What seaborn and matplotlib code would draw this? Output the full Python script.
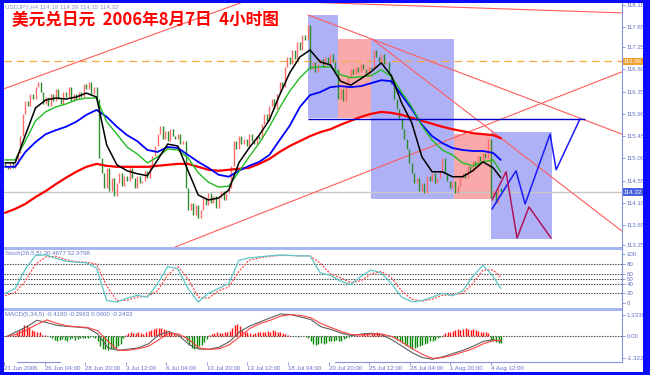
import numpy as np
import matplotlib
matplotlib.use("Agg")
import matplotlib.pyplot as plt
from matplotlib.patches import Rectangle
from matplotlib.lines import Line2D
from matplotlib.transforms import blended_transform_factory
import seaborn as sns

# USDJPY 4h closes, 21 Jun - 7 Aug 2006
first_open = 114.90
closes = [
    114.85, 114.78, 114.92, 114.80, 114.88, 115.10, 115.45, 115.90, 116.15, 116.05,
    116.30, 116.20, 116.45, 116.55, 116.35, 116.10, 116.25, 116.05, 116.30, 116.15,
    116.40, 116.20, 116.10, 116.35, 116.25, 116.45, 116.15, 116.30, 116.20, 116.35,
    116.25, 116.50, 116.40, 116.55, 116.30, 116.45, 116.20, 115.00, 114.70, 114.40,
    114.80, 114.35, 114.60, 114.25, 114.50, 114.70, 114.45, 114.65, 114.55, 114.80,
    114.60, 114.40, 114.65, 114.50, 114.55, 114.75, 114.60, 114.85, 115.05, 115.25,
    115.50, 115.65, 115.40, 115.55, 115.35, 115.60, 115.45, 115.40, 115.50, 115.30,
    115.35, 114.40, 113.95, 114.10, 113.85, 114.05, 113.80, 113.95, 114.20, 114.05,
    114.30, 114.10, 114.25, 114.00, 114.20, 114.35, 114.15, 114.30, 114.40, 114.85,
    115.35, 115.20, 115.45, 115.30, 115.40, 115.25, 115.50, 115.35, 115.30, 115.45,
    115.40, 115.70, 115.90, 115.75, 116.05, 116.20, 116.00, 116.30, 116.55, 116.45,
    116.85, 117.05, 116.90, 117.20, 117.00, 117.35, 117.20, 117.50, 117.40, 117.70,
    116.80, 116.95, 116.75, 116.90, 117.00, 116.85, 117.05, 116.90, 117.10, 116.95,
    116.80, 116.20, 116.40, 116.15, 116.50, 116.65, 116.80, 116.70, 116.85, 116.75,
    116.90, 116.80, 116.70, 116.85, 116.80, 117.20, 117.05, 116.95, 117.10, 116.90,
    116.95, 116.70, 116.50, 116.20, 116.00, 115.80, 115.60, 115.40, 115.20, 114.90,
    114.70, 114.50, 114.60, 114.35, 114.50, 114.30, 114.65, 114.55, 114.70, 114.50,
    114.60, 114.75, 115.00, 114.70, 114.55, 114.40, 114.55, 114.30, 114.45, 114.60,
    114.70, 114.60, 114.85, 114.75, 114.95, 114.85, 115.05, 114.95, 115.10, 115.00,
    115.40, 114.20, 114.35, 114.10, 114.40, 114.32,
]

# indicator lines, read every 4th bar
ma_bars = list(range(0, 193, 4)) + [195]
ma_black = [114.91, 114.91, 115.47, 116.02, 116.18, 116.22, 116.20, 116.24, 116.32, 116.24,
            115.27, 114.87, 114.75, 114.69, 114.65, 114.97, 115.29, 115.25, 114.75, 114.26,
            114.16, 114.20, 114.36, 114.91, 115.21, 115.47, 115.78, 116.28, 116.73, 117.05,
            117.19, 116.95, 116.89, 116.56, 116.48, 116.61, 116.75, 116.93, 116.67, 116.12,
            115.72, 115.03, 114.73, 114.73, 114.63, 114.63, 114.75, 114.93, 114.81, 114.61]
ma_green = [114.97, 114.97, 115.35, 115.76, 115.94, 116.04, 116.10, 116.18, 116.22, 116.22,
            115.74, 115.49, 115.23, 115.09, 114.91, 115.03, 115.19, 115.17, 115.01, 114.71,
            114.52, 114.42, 114.44, 114.73, 115.03, 115.31, 115.64, 116.02, 116.36, 116.63,
            116.83, 116.85, 116.85, 116.69, 116.63, 116.65, 116.67, 116.79, 116.65, 116.34,
            116.04, 115.66, 115.37, 115.17, 115.07, 114.91, 114.85, 114.93, 114.97, 114.73]
ma_blue = [114.83, 114.83, 115.13, 115.33, 115.49, 115.57, 115.64, 115.74, 115.88, 115.98,
           115.84, 115.64, 115.47, 115.35, 115.17, 115.13, 115.23, 115.21, 115.07, 114.93,
           114.81, 114.67, 114.63, 114.75, 114.85, 114.93, 115.07, 115.37, 115.66, 116.04,
           116.28, 116.34, 116.44, 116.46, 116.44, 116.46, 116.52, 116.58, 116.56, 116.28,
           116.00, 115.68, 115.45, 115.31, 115.21, 115.17, 115.15, 115.15, 115.11, 114.97]
ma_red = [113.90, 113.98, 114.08, 114.22, 114.34, 114.48, 114.61, 114.73, 114.83, 114.89,
          114.85, 114.83, 114.83, 114.83, 114.83, 114.85, 114.87, 114.89, 114.89, 114.83,
          114.77, 114.75, 114.77, 114.79, 114.81, 114.89, 114.99, 115.13, 115.25, 115.35,
          115.45, 115.53, 115.59, 115.68, 115.76, 115.84, 115.90, 115.94, 115.92, 115.88,
          115.82, 115.76, 115.70, 115.64, 115.59, 115.55, 115.51, 115.49, 115.47, 115.41]

stoch_k = [20, 30, 70, 98, 99, 92, 86, 84, 83, 72,
           5, 2, 10, 16, 12, 40, 75, 70, 30, 2,
           20, 30, 40, 88, 93, 95, 97, 99, 98, 97,
           97, 62, 57, 45, 38, 55, 68, 62, 40, 12,
           3, 5, 12, 20, 15, 25, 55, 78, 55, 30]
stoch_d = [15, 22, 45, 80, 95, 96, 89, 85, 84, 80,
           35, 5, 6, 12, 14, 25, 58, 75, 50, 12,
           10, 25, 33, 65, 88, 93, 96, 98, 98, 97,
           97, 82, 60, 52, 42, 46, 60, 65, 52, 25,
           8, 4, 8, 16, 17, 20, 40, 68, 68, 53]

macd_main = [0.0, 0.3, 0.6, 1.0, 0.85, 0.68, 0.62, 0.58, 0.52, 0.15,
             -0.7, -0.85, -0.78, -0.7, -0.45, 0.1, 0.3, 0.05, -0.5, -0.78,
             -0.78, -0.65, -0.3, 0.3, 0.65, 0.9, 1.15, 1.38, 1.35, 1.2,
             1.04, 0.6, 0.43, 0.2, 0.05, 0.15, 0.2, 0.1, -0.2, -0.6,
             -1.0, -1.3, -1.4, -1.25, -1.05, -0.85, -0.6, -0.3, -0.2, -0.3]
macd_signal = [0.0, 0.15, 0.4, 0.75, 1.02, 0.8, 0.65, 0.6, 0.55, 0.35,
               -0.3, -0.85, -0.85, -0.75, -0.6, -0.2, 0.2, 0.15, -0.2, -0.7,
               -0.8, -0.75, -0.5, 0.0, 0.5, 0.8, 1.0, 1.25, 1.35, 1.3,
               1.15, 0.8, 0.55, 0.3, 0.12, 0.1, 0.15, 0.15, 0.0, -0.35,
               -0.75, -1.1, -1.35, -1.3, -1.15, -0.95, -0.75, -0.45, -0.25, -0.24]

# MACD histogram, one value per bar
macd_hist = [
    0.0, 0.02, 0.05, 0.1, 0.25, 0.4, 0.55, 0.7, 0.72, 0.6,
    0.4, 0.35, 0.3, 0.25, 0.1, 0.08, 0.02, -0.02,
    -0.1, -0.2, -0.25, -0.2, -0.15, -0.2, -0.25, -0.18, -0.12, -0.2, -0.15, -0.1, -0.08, -0.12, -0.1, -0.05, -0.03, -0.08,
    -0.3, -0.6, -0.75, -0.8, -0.85, -0.8, -0.75, -0.7, -0.6, -0.45, -0.1,
    0.1, 0.2, 0.25, 0.22, 0.2, 0.25, 0.2, 0.15,
    0.3, 0.35, 0.4, 0.45, 0.5, 0.55, 0.5, 0.45, 0.4, 0.35, 0.3, 0.2,
    0.1, 0.05, 0.0, -0.05,
    -0.3, -0.55, -0.7, -0.75, -0.7, -0.6, -0.5, -0.35, -0.15,
    0.1, 0.15, 0.2, 0.25, 0.22, 0.2, 0.25, 0.3, 0.35,
    0.55, 0.7, 0.75, 0.65, 0.4, 0.3, 0.25, 0.2, 0.15,
    0.2, 0.25, 0.3, 0.25, 0.3, 0.35, 0.3, 0.4, 0.35, 0.3, 0.25, 0.2,
    0.15, 0.1, 0.05, 0.02, 0.0, -0.02, 0.02, 0.0, -0.05, -0.1,
    -0.3, -0.45, -0.5, -0.45, -0.4, -0.45, -0.4, -0.3,
    -0.3, -0.25, -0.2, -0.3, -0.25, -0.15, -0.1, -0.05, 0.0, 0.05, 0.1, 0.1,
    0.15, 0.2, 0.15, 0.1, 0.15, 0.2, 0.25, 0.2, 0.15, 0.1, 0.05, 0.0, -0.05, -0.1,
    -0.2, -0.3, -0.4, -0.5, -0.6, -0.7, -0.75, -0.7, -0.65, -0.6, -0.5, -0.45, -0.4, -0.3, -0.25, -0.2, -0.1, -0.05,
    0.1, 0.2, 0.25, 0.3, 0.35, 0.4, 0.45, 0.4, 0.45, 0.5, 0.45, 0.4, 0.45, 0.4, 0.35, 0.3, 0.3, 0.25, 0.2,
    -0.2, -0.3, -0.35, -0.4, -0.42,
]

# drawing objects on the chart (bar index / price)
box_left = [119.2, 131.0, 144.0, 176.6, 191.2]
box_right = [131.0, 144.0, 176.6, 191.2, 215.2]
box_top = [117.90, 117.41, 117.41, 115.49, 115.53]
box_bottom = [115.82, 115.82, 114.18, 114.18, 113.37]
box_kind = ["blue", "pink", "blue", "pink", "blue"]

trend_x0 = [-0.8, 100.0, 66.9, 119.2, 144.4]
trend_p0 = [116.40, 118.19, 113.21, 117.90, 117.41]
trend_x1 = [100.0, 242.7, 242.7, 242.7, 242.7]
trend_p1 = [118.28, 117.94, 116.75, 115.49, 113.53]

wave_up_bars = [191.6, 201.0, 204.6, 214.4, 216.8, 226.2]
wave_up_prices = [113.98, 114.75, 114.08, 115.49, 114.77, 115.80]
wave_dn_bars = [191.6, 197.1, 201.4, 206.1, 214.8]
wave_dn_prices = [114.16, 114.73, 113.39, 114.02, 113.39]

level_bars = [119.2, 228.2]
level_price = 115.80
orange_level = 116.96
last_price = 114.32

price_ticks = [113.25, 113.65, 114.10, 114.55, 115.00, 115.45, 115.90,
               116.35, 116.80, 117.25, 117.65, 118.10]
stoch_ticks = [0, 20, 40, 50, 60, 80, 100]
stoch_levels = [20, 40, 50, 60, 80]
macd_ticks = [-1.3224, 0.0, 1.3339]
macd_tick_labels = ["-1.3224", "0.00", "1.3339"]

tick_bars = [-1, 15, 31, 47, 63, 79, 95, 111, 127, 143, 159, 175, 191]
tick_labels = ["21 Jun 2006", "26 Jun 04:00", "28 Jun 20:00", "3 Jul 12:00",
               "6 Jul 04:00", "10 Jul 20:00", "13 Jul 12:00", "18 Jul 04:00",
               "20 Jul 20:00", "25 Jul 12:00", "28 Jul 04:00", "1 Aug 20:00",
               "4 Aug 12:00"]

# STYLE

sns.set_style("white")
plt.rcParams['font.family'] = ['Liberation Sans', 'DejaVu Sans']

W, H = 650, 375
AXIS_COL = '#6272c8'
FS = 4.4

fig = plt.figure(figsize=(6.5, 3.75), dpi=100)


def frac(x0, y0, x1, y1):
    return [x0 / W, 1 - y1 / H, (x1 - x0) / W, (y1 - y0) / H]


ax = fig.add_axes(frac(4, 3, 622, 247))
ax_st = fig.add_axes(frac(4, 249.5, 622, 308))
ax_md = fig.add_axes(frac(4, 310.5, 622, 362))

for a in (ax, ax_st, ax_md):
    a.set_xlim(-0.4, 242.7)
    a.set_facecolor('white')
    for s in a.spines.values():
        s.set_visible(False)
    a.yaxis.tick_right()
    a.tick_params(axis='y', right=True, left=False, labelright=True, labelleft=False,
                  length=2, width=0.5, color=AXIS_COL, labelsize=FS,
                  labelcolor=AXIS_COL, pad=1.5)
    a.tick_params(axis='x', bottom=False, labelbottom=False)

# MAIN PRICE PANEL

ax.set_ylim(113.21, 118.14)

for l, r, t, b, k in zip(box_left, box_right, box_top, box_bottom, box_kind):
    ax.add_patch(Rectangle((l, b), r - l, t - b,
                           facecolor='#afb1f6' if k == "blue" else '#f9a9a9',
                           edgecolor='none', zorder=1))

ax.axhline(orange_level, color='#f5a742', ls=(0, (6, 4)), lw=0.9, zorder=1.5)
ax.axhline(last_price, color='#c8c8c8', lw=1.0, zorder=1.5)

for x0, p0, x1, p1 in zip(trend_x0, trend_p0, trend_x1, trend_p1):
    ax.plot([x0, x1], [p0, p1], color='#ff5c5c', lw=0.8, zorder=2)

close = np.array(closes)
opens = np.r_[first_open, close[:-1]]
bars = np.arange(len(close))
up = close >= opens
ax.vlines(bars[up], opens[up], close[up], color='#ff6a6a', lw=1.0, zorder=3)
ax.vlines(bars[~up], close[~up], opens[~up], color='#2e8b2e', lw=1.0, zorder=3)

sns.lineplot(x=ma_bars, y=ma_red, ax=ax, color='#ff0000', linewidth=1.6, zorder=4)
sns.lineplot(x=ma_bars, y=ma_blue, ax=ax, color='#0000ff', linewidth=1.3, zorder=5)
sns.lineplot(x=ma_bars, y=ma_green, ax=ax, color='#22bb22', linewidth=1.0, zorder=6)
sns.lineplot(x=ma_bars, y=ma_black, ax=ax, color='black', linewidth=1.1, zorder=7)

ax.hlines(level_price, level_bars[0], level_bars[1], color='#0000cc', lw=1.0, zorder=6)
sns.lineplot(x=wave_up_bars, y=wave_up_prices, ax=ax, sort=False,
             color='#1a1aff', linewidth=1.1, zorder=8)
sns.lineplot(x=wave_dn_bars, y=wave_dn_prices, ax=ax, sort=False,
             color='#b0155a', linewidth=1.1, zorder=8)

ax.set_yticks(price_ticks)
ax.set_yticklabels([f"{p:.2f}" for p in price_ticks])

tr = blended_transform_factory(ax.transAxes, ax.transData)
ax.text(1.002, orange_level, f"{orange_level:.2f}", transform=tr, fontsize=FS,
        color='white', va='center', ha='left', zorder=10, clip_on=False,
        bbox=dict(boxstyle='square,pad=0.2', fc='#f0a030', ec='none'))
ax.text(1.002, last_price, f"{last_price:.2f}", transform=tr, fontsize=FS,
        color='white', va='center', ha='left', zorder=10, clip_on=False,
        bbox=dict(boxstyle='square,pad=0.2', fc='#4a62dc', ec='none'))

ax.text(0.002, 0.995, "USDJPY,H4 114.18 114.39 114.15 114.32", transform=ax.transAxes,
        fontsize=FS, color='#8a96c8', va='top', ha='left', zorder=10)
fig.text(12 / W, 1 - 20 / H, "美元兑日元  2006年8月7日  4小时图", color='#ff0000',
         fontsize=12, fontweight='bold', family=['Noto Sans CJK SC', 'DejaVu Sans'],
         va='center', ha='left', zorder=10)

# STOCHASTIC PANEL

ax_st.set_ylim(-10.2, 110.2)
for lv in stoch_levels:
    ax_st.axhline(lv, color='#404040', ls=(0, (1.2, 1.2)), lw=0.8, zorder=1)
sns.lineplot(x=ma_bars, y=stoch_d, ax=ax_st, color='#ff4444', linewidth=0.9,
             linestyle=(0, (1.5, 1.2)), zorder=3)
sns.lineplot(x=ma_bars, y=stoch_k, ax=ax_st, color='#5cc8c8', linewidth=0.9, zorder=4)
ax_st.set_yticks(stoch_ticks)
ax_st.set_yticklabels([str(v) for v in stoch_ticks])
ax_st.text(0.002, 0.97, "Stoch(26,5,5) 30.4677 52.9798", transform=ax_st.transAxes,
           fontsize=FS, color='#6878c8', va='top', ha='left')

# MACD PANEL

ax_md.set_ylim(-1.57, 1.6)
ax_md.axhline(0, color='#404040', ls=(0, (1.2, 1.2)), lw=0.8, zorder=1)
hist = np.array(macd_hist)
hbars = np.arange(len(hist))
ax_md.vlines(hbars, 0, hist, colors=np.where(hist >= 0, '#ff1010', '#0a8a0a'),
             lw=1.0, zorder=2)
sns.lineplot(x=ma_bars, y=macd_main, ax=ax_md, color='#606060', linewidth=0.8, zorder=3)
sns.lineplot(x=ma_bars, y=macd_signal, ax=ax_md, color='#ff4040', linewidth=0.8, zorder=4)
ax_md.set_yticks(macd_ticks)
ax_md.set_yticklabels(macd_tick_labels)
ax_md.text(0.002, 0.97, "MACD(5,34,5) -0.4180 -0.2963 0.0000 -0.2433",
           transform=ax_md.transAxes, fontsize=FS, color='#6878c8', va='top', ha='left')

ax_md.set_xticks(tick_bars)
ax_md.set_xticklabels(tick_labels, ha='left')
ax_md.tick_params(axis='x', bottom=True, labelbottom=True, length=2.5, width=0.5,
                  color=AXIS_COL, labelsize=FS, labelcolor=AXIS_COL, pad=0.2)

for a in (ax, ax_st, ax_md):
    a.set_xlabel("")
    a.set_ylabel("")

# FRAME, SEPARATORS

sep_col = '#a6b6f2'
for y0 in (247, 308):
    fig.add_artist(Rectangle((4 / W, 1 - (y0 + 2.5) / H), 618 / W, 2.5 / H,
                             transform=fig.transFigure, facecolor=sep_col,
                             edgecolor='none'))
fig.add_artist(Line2D([622 / W, 622 / W], [1 - 3 / H, 1 - 362 / H],
                      transform=fig.transFigure, color='#8494e4', lw=0.8))
fig.add_artist(Line2D([335 / W, 622 / W], [1 - 362 / H] * 2,
                      transform=fig.transFigure, color='#8494e4', lw=0.8))
fig.add_artist(Line2D([17 / W, 60 / W], [1 - 362 / H] * 2,
                      transform=fig.transFigure, color='#8494e4', lw=0.8))

border = '#0a0aff'
for rx, ry, rw, rh in [(0, 0, 4, H), (0, 0, W, 3), (643, 0, 7, H), (0, 372, W, 3)]:
    fig.add_artist(Rectangle((rx / W, 1 - (ry + rh) / H), rw / W, rh / H,
                             transform=fig.transFigure, facecolor=border,
                             edgecolor='none', zorder=20))

fig.savefig("out.png", dpi=100)
